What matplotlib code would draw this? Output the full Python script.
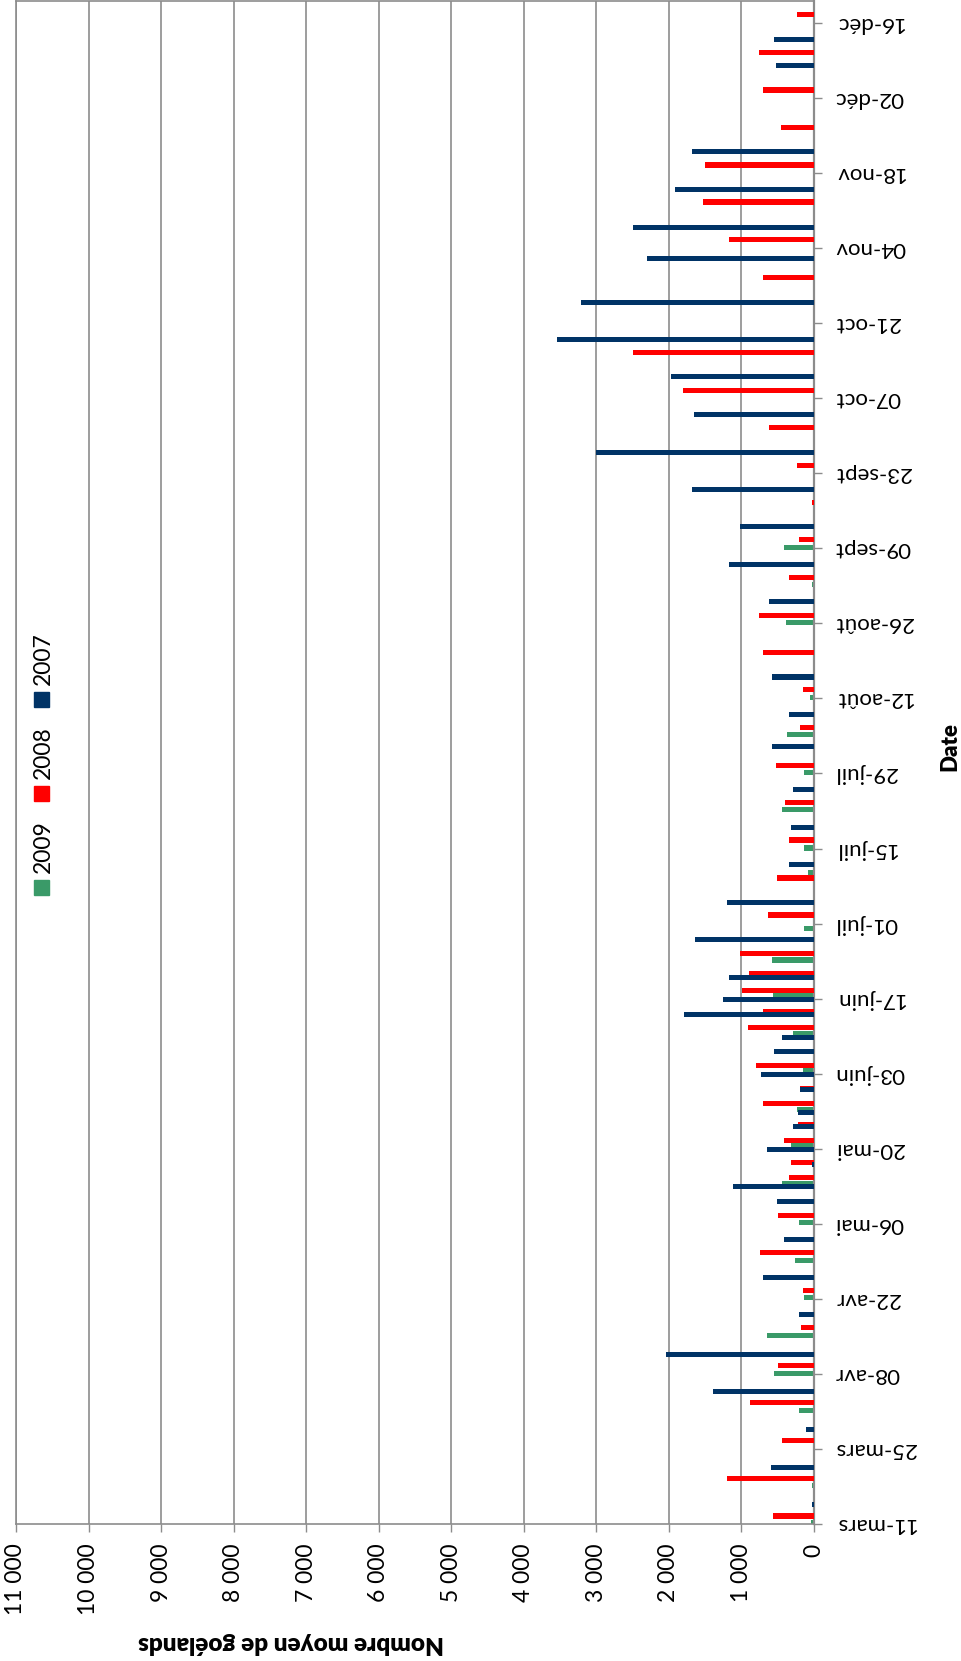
import matplotlib
matplotlib.use('Agg')
import matplotlib.pyplot as plt
from matplotlib.patches import Rectangle

plt.rcParams['font.family'] = ['Lato', 'DejaVu Sans']

# day offsets counted from 11 March
date_labels = ['11-mars', '25-mars', '08-avr', '22-avr', '06-mai', '20-mai', '03-juin',
               '17-juin', '01-juil', '15-juil', '29-juil', '12-août', '26-août', '09-sept',
               '23-sept', '07-oct', '21-oct', '04-nov', '18-nov', '02-déc', '16-déc']
label_days = list(range(0, 281, 14))

days_2009 = [0.3, 7.1, 21.1, 28.1, 35.2, 42.2, 49.2, 56.2, 63.6, 70.6, 77.4, 84.5, 91.4,
             98.5, 105.2, 111.1, 121.5, 126.1, 133.2, 140.2, 147.2, 154.2, 168.2, 175.2, 182.1]
vals_2009 = [40, 23, 207, 547, 652, 138, 262, 207, 446, 322, 239, 156, 294,
             570, 579, 138, 87, 138, 446, 138, 372, 60, 390, 32, 418]

days_2008 = [1.5, 8.5, 15.5, 22.6, 29.6, 36.6, 43.6, 50.6, 57.6, 64.6, 67.4, 71.6, 74.6,
             78.5, 81.3, 85.6, 92.7, 95.6, 99.6, 102.7, 106.5, 113.6, 120.5, 127.6, 134.6,
             141.5, 148.6, 155.6, 162.6, 169.5, 176.5, 183.6, 190.5, 197.5, 204.5, 211.5,
             218.6, 232.5, 239.6, 246.6, 253.5, 260.5, 267.5, 274.5, 281.5]
vals_2008 = [570, 1195, 441, 882, 492, 184, 156, 744, 496, 340, 317, 418, 216,
             698, 188, 804, 914, 703, 988, 891, 1020, 629, 505, 345, 395,
             524, 188, 156, 698, 753, 340, 211, 32, 239, 625, 1810,
             2490, 708, 1172, 1535, 1507, 450, 708, 758, 239]

days_2007 = [3.7, 10.6, 17.7, 24.7, 31.7, 39.0, 46.0, 53.1, 60.1, 62.9, 67.1, 69.9, 74.1,
             76.8, 81.0, 83.8, 88.1, 90.8, 95.1, 97.9, 102.0, 109.0, 115.9, 123.0, 130.0,
             137.0, 145.1, 151.0, 158.0, 172.0, 179.0, 186.0, 193.0, 199.9, 207.0, 214.0,
             221.0, 227.9, 236.1, 241.9, 249.0, 256.0, 272.1, 277.0]
vals_2007 = [32, 597, 110, 1397, 2040, 207, 698, 418, 515, 1121, 28, 652, 294,
             216, 188, 730, 547, 441, 1787, 1250, 1172, 1636, 1195, 345, 322,
             294, 574, 340, 574, 625, 1172, 1020, 1686, 3005, 1659, 1971,
             3547, 3216, 2306, 2490, 1920, 1686, 524, 547]

colors = {'2009': '#3a9a68', '2008': '#ff0000', '2007': '#003366'}
grey = '#8c8c8c'

W, H = 962, 1661
fig = plt.figure(figsize=(W / 100, H / 100), dpi=100)
ax = fig.add_axes([16 / W, 1 - 1524 / H, (814 - 16) / W, (1524 - 1) / H])

ax.barh(days_2009, vals_2009, height=0.95, color=colors['2009'], zorder=2)
ax.barh(days_2008, vals_2008, height=0.95, color=colors['2008'], zorder=3)
ax.barh(days_2007, vals_2007, height=0.95, color=colors['2007'], zorder=4)

ax.set_xlim(11000, 0)
ax.set_ylim(0, 284.1)

xt = list(range(0, 11001, 1000))
ax.set_xticks(xt, [f'{v:,}'.replace(',', ' ') for v in xt])
ax.xaxis.grid(True, color=grey, lw=1.2)
ax.set_axisbelow(True)
ax.tick_params(axis='x', rotation=90, labelsize=16.5, length=6, width=1, color=grey, pad=8)

ax.yaxis.tick_right()
ax.set_yticks(label_days, date_labels)
ax.tick_params(axis='y', labelsize=16, length=6, width=1, color=grey, pad=9)
for t in ax.get_yticklabels():
    t.set_rotation(180)
    t.set_va('center')

for s in ax.spines.values():
    s.set_color(grey)
    s.set_linewidth(1.2)
ax.spines['right'].set_linewidth(1.6)

fig.text(291 / W, 1 - 1643 / H, 'Nombre moyen de goélands', rotation=180,
         ha='center', va='center', fontsize=17.5, fontweight='heavy')
fig.text(950 / W, 1 - 747 / H, 'Date', rotation=90,
         ha='center', va='center', fontsize=16, fontweight='heavy')

# legend drawn by hand, rotated like the rest of the chart
for i, name in enumerate(['2007', '2008', '2009']):
    ty = 659 + i * 94
    my = 699 + i * 94
    fig.patches.append(Rectangle((34 / W, 1 - (my + 8) / H), 15 / W, 15 / H,
                                 transform=fig.transFigure, color=colors[name]))
    fig.text(43 / W, 1 - ty / H, name, rotation=90, ha='center', va='center', fontsize=16.5)

fig.savefig('out.png', dpi=100, facecolor='white')
